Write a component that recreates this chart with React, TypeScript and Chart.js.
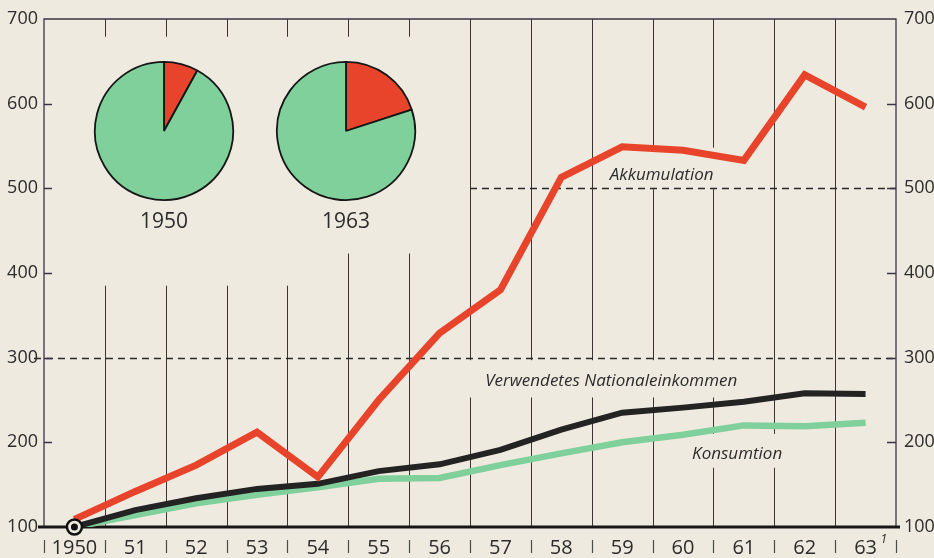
import React, { useEffect, useRef } from 'react';
import { Chart, registerables } from 'chart.js';

Chart.register(...registerables);

// ---------- data ----------
const years = ['1950', '51', '52', '53', '54', '55', '56', '57', '58', '59', '60', '61', '62', '63'];
const akkumulation = [109, 142, 173, 212, 159, 250, 329, 380, 513, 549, 545, 533, 634, 596];
const nationaleinkommen = [100, 120, 134, 145, 151, 166, 174, 191, 215, 235, 241, 248, 258, 257];
const konsumtion = [100, 114, 128, 138, 147, 157, 158, 173, 187, 200, 209, 220, 219, 223];
const yTicks = [100, 200, 300, 400, 500, 600, 700];
const dashedLevels = [300, 500];
const pieYears = ['1950', '1963'];
const pieAkkumulation = [8, 20];
const pieKonsumtion = [92, 80];
const seriesNames = ['Akkumulation', 'Verwendetes Nationaleinkommen', 'Konsumtion'];
const footnote = '1';

// ---------- styles ----------
const BG = '#eeeadf';
const RED = '#e8442b';
const GREEN = '#80d09b';
const BLACK = '#232323';
const TEXT = '#2c2c2c';
const FONT = '"Open Sans", "Liberation Sans", sans-serif';

function PieChart({ akk, kons }: { akk: number; kons: number }) {
  const ref = useRef<HTMLCanvasElement>(null);
  useEffect(() => {
    const chart = new Chart(ref.current!, {
      type: 'pie',
      data: {
        labels: ['Akkumulation', 'Konsumtion'],
        datasets: [
          {
            data: [akk, kons],
            backgroundColor: [RED, GREEN],
            borderColor: '#161616',
            borderWidth: 1.8,
          },
        ],
      },
      options: {
        animation: false,
        responsive: false,
        layout: { padding: 2 },
        plugins: { legend: { display: false }, tooltip: { enabled: false } },
      },
    });
    return () => chart.destroy();
  }, [akk, kons]);
  return <canvas ref={ref} width={144} height={144} />;
}

function MainChart() {
  const ref = useRef<HTMLCanvasElement>(null);
  useEffect(() => {
    const decor = {
      id: 'decor',
      beforeDatasetsDraw(chart: any) {
        const { ctx, chartArea: ca } = chart;
        const xs = chart.scales.x;
        const ys = chart.scales.y;
        const step = xs.getPixelForValue(1) - xs.getPixelForValue(0);
        const x0 = xs.getPixelForValue(0);
        const bound = (i: number) => x0 - step / 2 + i * step;
        const px = (idx: number) => x0 + idx * step;
        const py = (v: number) => ys.getPixelForValue(v);
        ctx.save();

        // vertical grid segments
        ctx.strokeStyle = '#3c3434';
        ctx.lineWidth = 1;
        for (let i = 1; i < years.length; i++) {
          const xb = Math.round(bound(i)) + 0.5;
          const topVal = i <= 4 ? 385 : i <= 6 ? 423 : 700;
          ctx.beginPath();
          ctx.moveTo(xb, py(topVal));
          ctx.lineTo(xb, ca.bottom);
          ctx.stroke();
          if (i <= 6) {
            ctx.beginPath();
            ctx.moveTo(xb, py(700));
            ctx.lineTo(xb, py(679));
            ctx.stroke();
          }
        }

        // clear behind the series labels
        ctx.fillStyle = BG;
        const clearBox = (ia: number, ib: number, va: number, vb: number) => {
          ctx.fillRect(px(ia), py(va), px(ib) - px(ia), py(vb) - py(va));
        };
        clearBox(8.64, 10.69, 548, 499);
        clearBox(6.42, 11.02, 297, 253);
        clearBox(10.03, 11.76, 210, 170);

        // dashed lines
        ctx.strokeStyle = '#2a2a2a';
        ctx.lineWidth = 1.3;
        ctx.setLineDash([7, 5]);
        dashedLevels.forEach((lv, k) => {
          const y = Math.round(py(lv)) + 0.5;
          ctx.beginPath();
          ctx.moveTo(k === 0 ? ca.left - 10 : bound(7), y);
          ctx.lineTo(ca.right, y);
          ctx.stroke();
        });
        ctx.setLineDash([]);

        // frame
        ctx.strokeStyle = '#3a3448';
        ctx.lineWidth = 1.3;
        ctx.beginPath();
        ctx.moveTo(ca.left, ca.bottom);
        ctx.lineTo(ca.left, ca.top);
        ctx.lineTo(ca.right, ca.top);
        ctx.lineTo(ca.right, ca.bottom);
        ctx.stroke();

        // inward y ticks
        yTicks.forEach((v) => {
          if (v === 700 || v === 100) return;
          const y = Math.round(py(v)) + 0.5;
          ctx.beginPath();
          ctx.moveTo(ca.left, y);
          ctx.lineTo(ca.left + 8, y);
          ctx.moveTo(ca.right - 9, y);
          ctx.lineTo(ca.right, y);
          ctx.stroke();
        });

        // bottom axis (thick)
        ctx.strokeStyle = '#161616';
        ctx.lineWidth = 3;
        ctx.beginPath();
        ctx.moveTo(ca.left - 6, ca.bottom);
        ctx.lineTo(ca.right + 4, ca.bottom);
        ctx.stroke();

        // category separators below axis
        ctx.strokeStyle = '#4a4a4a';
        ctx.lineWidth = 1.2;
        for (let i = 0; i <= years.length; i++) {
          const xb = Math.round(bound(i)) + 0.5;
          ctx.beginPath();
          ctx.moveTo(xb, ca.bottom + 13);
          ctx.lineTo(xb, ca.bottom + 26);
          ctx.stroke();
        }

        // series labels
        ctx.fillStyle = TEXT;
        ctx.font = `italic 17px ${FONT}`;
        ctx.textAlign = 'center';
        ctx.textBaseline = 'middle';
        const pos = [
          [9.65, 516],
          [8.82, 272],
          [10.89, 186],
        ];
        seriesNames.forEach((name, k) => {
          ctx.fillText(name, px(pos[k][0]), py(pos[k][1]));
        });

        // footnote mark after 63
        ctx.font = `italic 12px ${FONT}`;
        ctx.textAlign = 'left';
        ctx.fillText(footnote, xs.getPixelForValue(years.length - 1) + 15, ca.bottom + 13);
        ctx.restore();
      },
    };

    const marker = years.map((_, i) => (i === 0 ? nationaleinkommen[0] : null));

    const tickFont = { family: FONT, size: 18 };
    const chart = new Chart(ref.current!, {
      type: 'line',
      data: {
        labels: years,
        datasets: [
          {
            label: 'marker-dot',
            data: marker,
            showLine: false,
            pointRadius: 3.5,
            pointBackgroundColor: '#111',
            pointBorderWidth: 0,
            clip: false,
            order: 0,
          } as any,
          {
            label: 'marker-ring',
            data: marker,
            showLine: false,
            pointRadius: 7.5,
            pointBackgroundColor: BG,
            pointBorderColor: '#111',
            pointBorderWidth: 2.5,
            clip: false,
            order: 1,
          },
          {
            label: seriesNames[0],
            data: akkumulation,
            borderColor: RED,
            borderWidth: 7,
            pointRadius: 0,
            tension: 0,
            order: 2,
          },
          {
            label: seriesNames[1],
            data: nationaleinkommen,
            borderColor: BLACK,
            borderWidth: 6,
            pointRadius: 0,
            tension: 0,
            order: 3,
          },
          {
            label: seriesNames[2],
            data: konsumtion,
            borderColor: GREEN,
            borderWidth: 6.5,
            pointRadius: 0,
            tension: 0,
            order: 4,
          },
        ],
      },
      options: {
        animation: false,
        responsive: true,
        maintainAspectRatio: false,
        layout: { padding: { top: 19, left: 0, right: 0, bottom: 0 } },
        plugins: { legend: { display: false }, tooltip: { enabled: false } },
        scales: {
          x: {
            type: 'category',
            offset: true,
            grid: { display: false, drawTicks: false },
            border: { display: false },
            ticks: {
              font: { family: FONT, size: 20 },
              color: TEXT,
              padding: 9,
              maxRotation: 0,
              autoSkip: false,
            },
            afterFit(s: any) {
              s.height = 31;
            },
          },
          y: {
            position: 'left',
            min: 100,
            max: 700,
            grid: { display: false, drawTicks: false },
            border: { display: false },
            ticks: { font: tickFont, color: TEXT, padding: 6 },
            afterBuildTicks(s: any) {
              s.ticks = yTicks.map((v) => ({ value: v }));
            },
            afterFit(s: any) {
              s.width = 44;
            },
          },
          y2: {
            position: 'right',
            min: 100,
            max: 700,
            grid: { display: false, drawTicks: false },
            border: { display: false },
            ticks: { font: tickFont, color: TEXT, padding: 8 },
            afterBuildTicks(s: any) {
              s.ticks = yTicks.map((v) => ({ value: v }));
            },
            afterFit(s: any) {
              s.width = 38;
            },
          },
        },
      },
      plugins: [decor],
    });
    return () => chart.destroy();
  }, []);
  return <canvas ref={ref} />;
}

export default function App() {
  const pieLeft = [92, 274];
  return (
    <div
      style={{
        position: 'absolute',
        left: 0,
        top: 0,
        width: 934,
        height: 558,
        background: BG,
        overflow: 'hidden',
      }}
    >
      <div style={{ position: 'absolute', left: 0, top: 0, width: 934, height: 558 }}>
        <MainChart />
      </div>
      {pieYears.map((yr, i) => (
        <div key={yr} style={{ position: 'absolute', left: pieLeft[i], top: 59, width: 144 }}>
          <PieChart akk={pieAkkumulation[i]} kons={pieKonsumtion[i]} />
          <div
            style={{
              textAlign: 'center',
              fontFamily: FONT,
              fontSize: 21,
              color: TEXT,
              marginTop: 4,
              lineHeight: '26px',
            }}
          >
            {yr}
          </div>
        </div>
      ))}
    </div>
  );
}
